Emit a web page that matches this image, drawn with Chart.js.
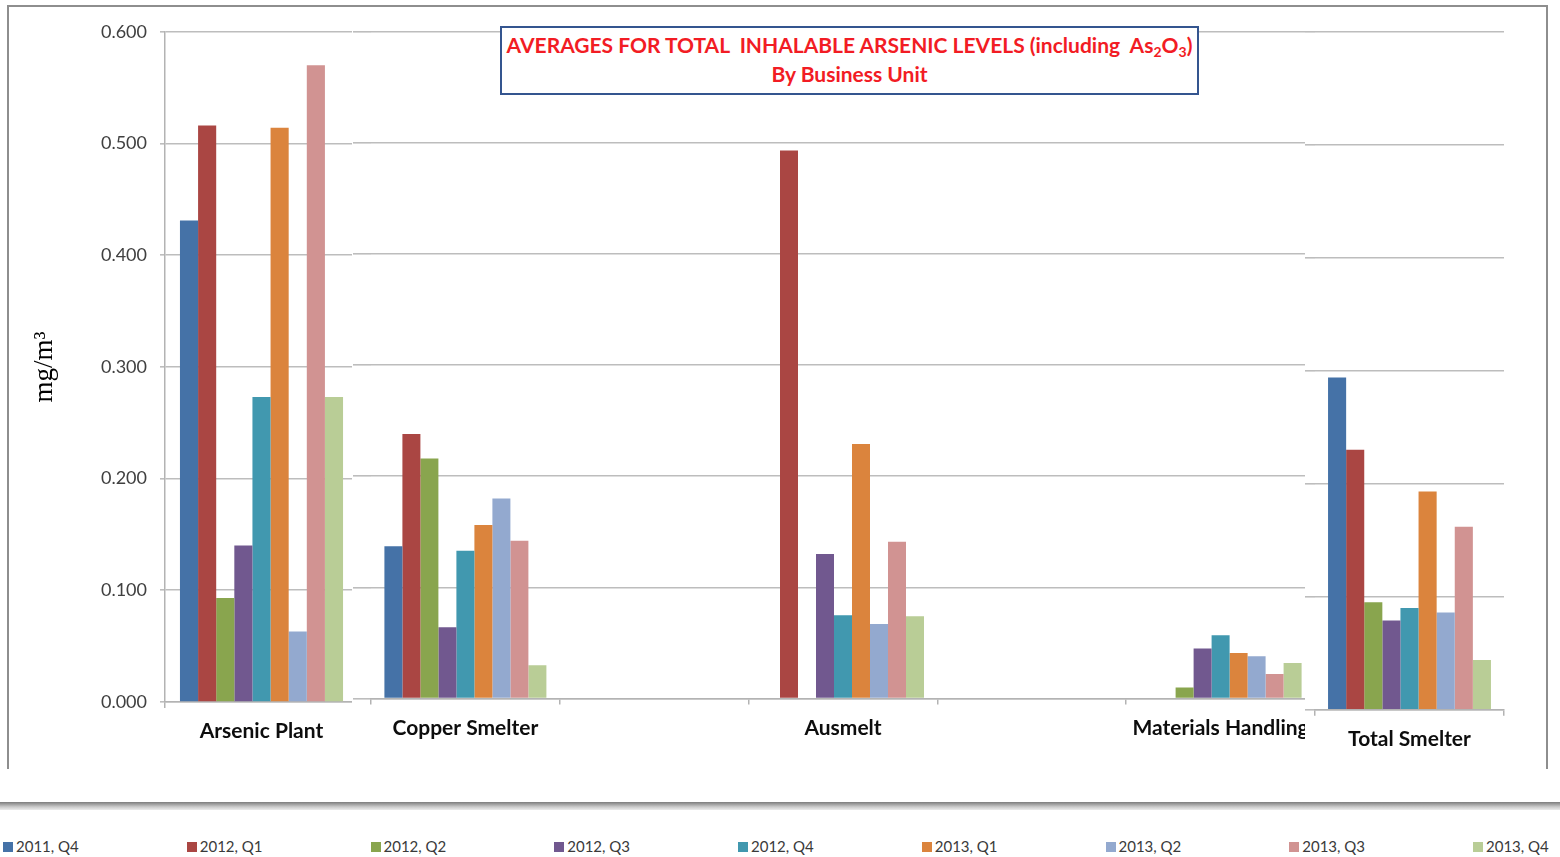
<!DOCTYPE html>
<html>
<head>
<meta charset="utf-8">
<title>Averages for Total Inhalable Arsenic Levels</title>
<script src="https://cdn.jsdelivr.net/npm/chart.js@4/dist/chart.umd.min.js"></script>
<style>
  html, body { margin: 0; padding: 0; background: #fff; }
  body { width: 1560px; height: 857px; position: relative; overflow: hidden; font-family: Lato, "Open Sans", sans-serif; }
  .frame { position: absolute; left: 7px; top: 5px; width: 1537px; height: 762px;
           border: 2px solid #8e8e8e; border-bottom: none; }
  .panel { position: absolute; top: 0; height: 770px; overflow: hidden; }
  .panel canvas { display: block; }
  .band { position: absolute; left: 0; top: 802px; width: 1560px; height: 8px;
          background: linear-gradient(#7c7c7c, #c9c9c9 60%, #ececec); }
  .title { position: absolute; left: 500px; top: 26px; width: 695px; height: 63px;
           border: 2px solid #34558f; background: #fff; color: #f21c24; font-weight: bold;
           text-align: center; font-size: 21px; line-height: 29px; padding-top: 2px; box-sizing: content-box; }
  .title sub { font-size: 14px; vertical-align: -4px; line-height: 0; }
  .legend-item { position: absolute; top: 836px; height: 20px; font-size: 15px; color: #3a3a3a; white-space: nowrap; }
  .legend-item .sw { position: absolute; left: 0; top: 6px; width: 10px; height: 10px; }
  .legend-item .tx { position: absolute; left: 13px; top: 0; line-height: 20px; }
</style>
</head>
<body>
<div class="frame"></div>

<div class="panel" style="left:0;width:352px;"><canvas id="cPlant" width="358" height="770"></canvas></div>
<div class="panel" style="left:353px;width:952px;"><canvas id="cUnits" width="968" height="770"></canvas></div>
<div class="panel" style="left:1305px;width:203px;"><canvas id="cTotal" width="200" height="770"></canvas></div>

<div class="title">AVERAGES FOR TOTAL&nbsp; INHALABLE ARSENIC LEVELS (including&nbsp; As<sub>2</sub>O<sub>3</sub>)<br>By Business Unit</div>

<div class="band"></div>
<div id="legend"></div>

<script>
// Business units (x categories)
const units = ['Arsenic Plant', 'Copper Smelter', 'Ausmelt', 'Materials Handling', 'Total Smelter'];

// Quarterly averages, mg/m3, one value per business unit (null = no sample)
const q4_2011 = [0.431, 0.137, null,  null,  0.294];
const q1_2012 = [0.516, 0.238, 0.493, null,  0.230];
const q2_2012 = [0.093, 0.216, null,  0.010, 0.095];
const q3_2012 = [0.140, 0.064, 0.130, 0.045, 0.079];
const q4_2012 = [0.273, 0.133, 0.075, 0.057, 0.090];
const q1_2013 = [0.514, 0.156, 0.229, 0.041, 0.193];
const q2_2013 = [0.063, 0.180, 0.067, 0.038, 0.086];
const q3_2013 = [0.570, 0.142, 0.141, 0.022, 0.162];
const q4_2013 = [0.273, 0.030, 0.074, 0.032, 0.044];

const seriesNames = ['2011, Q4', '2012, Q1', '2012, Q2', '2012, Q3', '2012, Q4',
                     '2013, Q1', '2013, Q2', '2013, Q3', '2013, Q4'];
const seriesValues = [q4_2011, q1_2012, q2_2012, q3_2012, q4_2012, q1_2013, q2_2013, q3_2013, q4_2013];

// Y axis ticks
const yTicks = [0, 0.1, 0.2, 0.3, 0.4, 0.5, 0.6];

const seriesColors = ['#4572A7', '#AA4643', '#89A54E', '#71588F', '#4198AF',
                      '#DB843D', '#93A9CF', '#D19392', '#B9CD96'];

const GRID = '#bdbdbd';
const AXIS = '#b3b3b3';
const FONT = 'Lato, "Open Sans", sans-serif';

Chart.defaults.font.family = FONT;
Chart.defaults.animation = false;

function buildDatasets(pick, catPct) {
  return seriesValues.map((vals, i) => ({
    label: seriesNames[i],
    data: pick(vals),
    backgroundColor: seriesColors[i],
    borderWidth: 0,
    barPercentage: 1.0,
    categoryPercentage: catPct
  }));
}

function xAxis(labelPad, height) {
  return {
    type: 'category',
    offset: true,
    grid: { display: true, drawOnChartArea: false, drawTicks: true, tickLength: 6, color: AXIS, lineWidth: 1.5, offset: true },
    border: { display: true, color: AXIS, width: 1.5 },
    ticks: { autoSkip: false, maxRotation: 0, padding: labelPad, color: '#0d0d0d',
             font: { family: FONT, size: 21, weight: 'bold' } },
    afterFit: s => { s.height = height; }
  };
}

function yAxisBare(width) {
  return {
    min: 0, max: 0.6,
    afterBuildTicks: s => { s.ticks = yTicks.map(v => ({ value: v })); },
    grid: { color: GRID, lineWidth: 1.6, drawTicks: true, tickLength: width },
    border: { display: false },
    ticks: { display: false },
    afterFit: s => { s.width = width; }
  };
}

// Arsenic Plant panel, carries the value axis
new Chart(document.getElementById('cPlant'), {
  type: 'bar',
  data: { labels: [units[0]], datasets: buildDatasets(v => [v[0]], 0.845) },
  options: {
    responsive: false,
    layout: { padding: { top: 31.7, bottom: 8, left: 0, right: 0 } },
    plugins: { legend: { display: false }, tooltip: { enabled: false } },
    scales: {
      x: xAxis(11, 60),
      y: {
        min: 0, max: 0.6,
        afterBuildTicks: s => { s.ticks = yTicks.map(v => ({ value: v })); },
        grid: { color: GRID, lineWidth: 1.6, drawTicks: true, tickLength: 5 },
        border: { display: true, color: AXIS, width: 1.5 },
        ticks: { padding: 13, color: '#404040', font: { family: FONT, size: 18 },
                 callback: v => Number(v).toFixed(3) },
        title: { display: true, text: 'mg/m³', color: '#000', padding: { top: 29, bottom: 0 },
                 font: { family: '"Liberation Serif", "Times New Roman", serif', size: 27 } },
        afterFit: s => { s.width = 165; }
      }
    }
  }
});

// Copper Smelter / Ausmelt / Materials Handling panel
new Chart(document.getElementById('cUnits'), {
  type: 'bar',
  data: {
    labels: [units[1], '', units[2], '', units[3]],
    datasets: buildDatasets(v => [v[1], null, v[2], null, v[3]], 0.858)
  },
  options: {
    responsive: false,
    layout: { padding: { top: 31.5, bottom: 7.5, left: 0, right: 6 } },
    plugins: { legend: { display: false }, tooltip: { enabled: false } },
    scales: { x: xAxis(11, 64), y: yAxisBare(18) }
  }
});

// Total Smelter panel
new Chart(document.getElementById('cTotal'), {
  type: 'bar',
  data: { labels: [units[4]], datasets: buildDatasets(v => [v[4]], 0.862) },
  options: {
    responsive: false,
    layout: { padding: { top: 31.7, bottom: 6.3, left: 0, right: 1 } },
    plugins: { legend: { display: false }, tooltip: { enabled: false } },
    scales: { x: xAxis(11, 54), y: yAxisBare(10) }
  }
});

// Legend row in equal slots along the bottom
const legend = document.getElementById('legend');
seriesNames.forEach((name, i) => {
  const item = document.createElement('div');
  item.className = 'legend-item';
  item.style.left = (3 + i * 183.75) + 'px';
  const sw = document.createElement('span');
  sw.className = 'sw';
  sw.style.background = seriesColors[i];
  const tx = document.createElement('span');
  tx.className = 'tx';
  tx.textContent = name;
  item.appendChild(sw);
  item.appendChild(tx);
  legend.appendChild(item);
});
</script>
</body>
</html>
